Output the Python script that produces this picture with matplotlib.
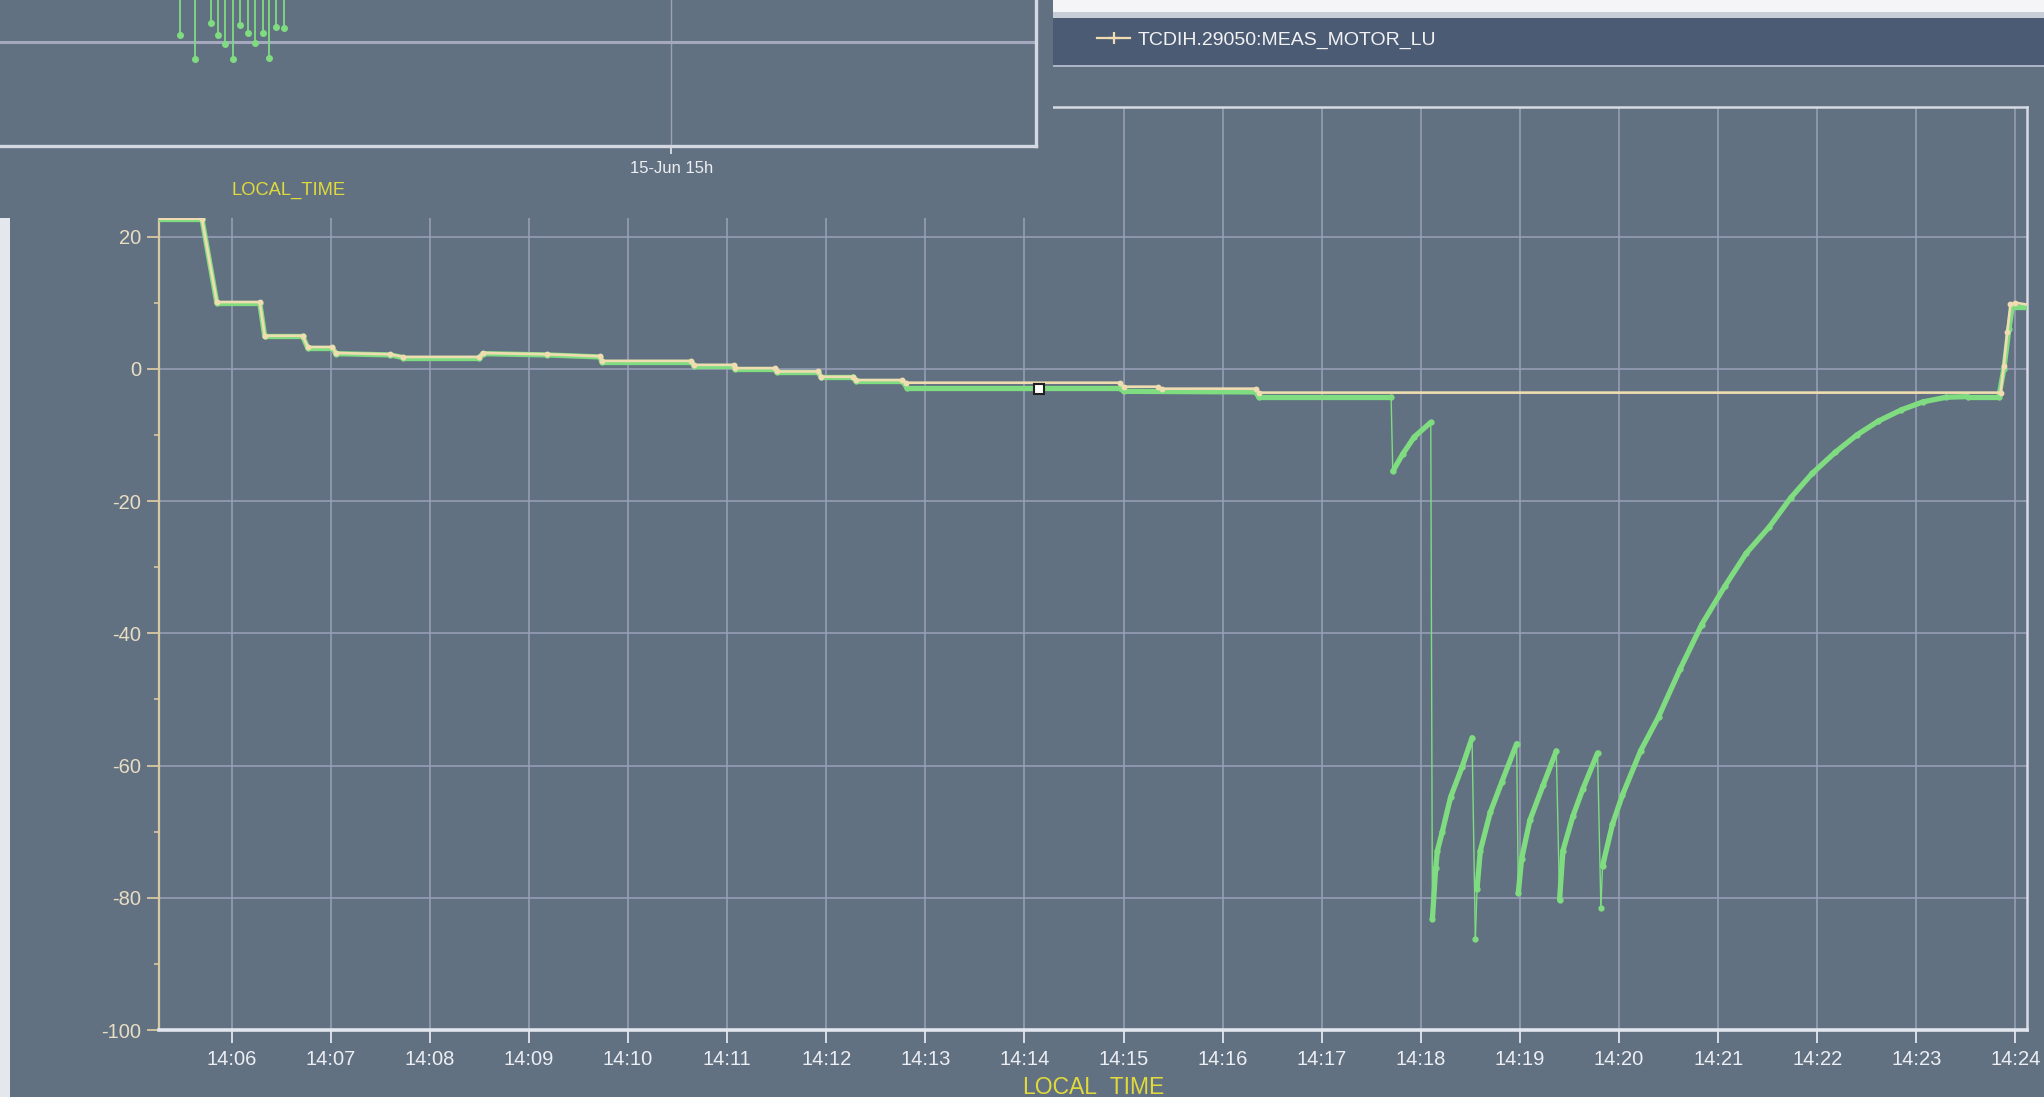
# coding=utf-8
# motor position trace, rebuilt from a screen capture
import matplotlib
matplotlib.use('Agg')
import matplotlib.pyplot as plt
import matplotlib.dates as mdates
from matplotlib.collections import LineCollection
from matplotlib.lines import Line2D
from matplotlib.patches import Rectangle
from matplotlib.ticker import MultipleLocator
import numpy as np
import pandas as pd

plt.rcParams['font.family'] = ['Liberation Sans', 'DejaVu Sans']
plt.rcParams['axes.unicode_minus'] = False

day = '2018-06-15 '

# beige series (setpoint)
ref_time = ['14:05:10', '14:05:42', '14:05:51', '14:06:17', '14:06:20', '14:06:43', '14:06:46',
            '14:07:01', '14:07:03', '14:07:36', '14:07:44', '14:08:30', '14:08:32', '14:09:11',
            '14:09:43', '14:09:44', '14:10:38', '14:10:40', '14:11:04', '14:11:05', '14:11:29',
            '14:11:30', '14:11:55', '14:11:57', '14:12:16', '14:12:18', '14:12:46', '14:12:48',
            '14:14:58', '14:15:00', '14:15:21', '14:15:23', '14:16:20', '14:16:22', '14:23:51',
            '14:23:53', '14:23:55', '14:23:57', '14:24:00', '14:24:10']
ref_value = [22.7, 22.7, 10.1, 10.1, 5.0, 5.0, 3.3,
             3.3, 2.4, 2.2, 1.8, 1.8, 2.4, 2.2,
             1.9, 1.2, 1.2, 0.6, 0.6, 0.1, 0.1,
             -0.4, -0.4, -1.2, -1.2, -1.7, -1.7, -2.1,
             -2.1, -2.7, -2.7, -3.0, -3.0, -3.6, -3.6,
             0.5, 5.5, 9.8, 10.0, 9.6]

# green series (measured)
meas_time = ['14:05:10', '14:05:42', '14:05:51', '14:06:17', '14:06:20', '14:06:43', '14:06:46',
             '14:07:01', '14:07:03', '14:07:36', '14:07:44', '14:08:30', '14:08:32', '14:09:11',
             '14:09:43', '14:09:44', '14:10:38', '14:10:40', '14:11:04', '14:11:05', '14:11:29',
             '14:11:30', '14:11:55', '14:11:57', '14:12:16', '14:12:18', '14:12:46', '14:12:49',
             '14:14:58', '14:15:00', '14:16:20', '14:16:22', '14:17:42', '14:17:43', '14:17:49',
             '14:17:56', '14:18:06', '14:18:07', '14:18:09', '14:18:10', '14:18:13', '14:18:18',
             '14:18:25', '14:18:31', '14:18:33', '14:18:34', '14:18:36', '14:18:42', '14:18:49',
             '14:18:58', '14:18:59', '14:19:01', '14:19:06', '14:19:14', '14:19:22', '14:19:24',
             '14:19:26', '14:19:32', '14:19:38', '14:19:47', '14:19:49', '14:19:50', '14:19:56',
             '14:20:02', '14:20:13', '14:20:24', '14:20:37', '14:20:50', '14:21:04', '14:21:17',
             '14:21:31', '14:21:44', '14:21:57', '14:22:11', '14:22:24', '14:22:37', '14:22:51',
             '14:23:04', '14:23:18', '14:23:31', '14:23:50', '14:23:53', '14:23:56', '14:23:58',
             '14:24:10']
meas_value = [22.7, 22.7, 10.0, 10.0, 4.9, 4.9, 3.2,
              3.2, 2.3, 2.1, 1.7, 1.7, 2.3, 2.1,
              1.8, 1.1, 1.1, 0.5, 0.5, 0.0, 0.0,
              -0.5, -0.5, -1.3, -1.3, -1.8, -1.8, -2.9,
              -2.9, -3.4, -3.5, -4.3, -4.3, -15.5, -12.9,
              -10.3, -8.1, -83.2, -75.5, -72.9, -70.0, -64.8,
              -60.2, -55.8, -86.3, -78.7, -72.9, -67.1, -62.5,
              -56.7, -79.3, -74.1, -68.3, -63.0, -57.8, -80.3,
              -72.9, -67.7, -63.6, -58.1, -81.5, -75.2, -68.9,
              -64.5, -57.8, -52.6, -45.4, -38.7, -32.9, -27.9,
              -23.9, -19.5, -15.8, -12.6, -10.0, -7.9, -6.2,
              -5.0, -4.3, -4.2, -4.2, 0.0, 6.0, 9.3,
              9.3]

cursor_time = '14:14:09'
cursor_value = -3.0

# overview panel (top left), spike lows
ov_time = ['14:16:08', '14:17:28', '14:18:51', '14:19:27', '14:20:07', '14:20:51', '14:21:30',
           '14:22:10', '14:22:50', '14:23:31', '14:24:03', '14:24:39', '14:25:22']
ov_low = [6.3, -16.9, 17.7, 6.3, -2.5, -16.9, 16.0, 8.0, -1.6, 8.0, -16.0, 14.4, 12.8]
ov_tick_time = ['15:00:00']
ov_tick_label = ['15-Jun 15h']

legend_label = 'TCDIH.29050:MEAS_MOTOR_LU'
axis_label = 'LOCAL_TIME'

BG = '#627181'
GREEN = '#7fdc80'
BEIGE = '#efdcb0'
GRID = '#9aa0b8'
YELLOW = '#e0da3a'
W, H = 2044.0, 1097.0


def to_dt(ts):
    return pd.to_datetime([day + t for t in ts])


def box(x0, y0, x1, y1):  # pixel box (top-left origin) -> figure fraction rect
    return [x0 / W, 1 - y1 / H, (x1 - x0) / W, (y1 - y0) / H]


fig = plt.figure(figsize=(20.44, 10.97), dpi=100, facecolor=BG)

# ---------------- main chart ----------------
ax = fig.add_axes(box(159, 107, 2027, 1030))
ax.set_facecolor(BG)
ax.set_axisbelow(True)

mx = mdates.date2num(to_dt(meas_time))
my = np.array(meas_value)
pts = np.column_stack([mx, my])
segs = np.stack([pts[:-1], pts[1:]], axis=1)
rate = np.abs(np.diff(my)) / (np.diff(mx) * 86400.0)
widths = np.where(rate > 5, 1.0, 3.8)
ax.add_collection(LineCollection(segs, linewidths=widths, colors=GREEN,
                                 capstyle='round', joinstyle='round', zorder=3))
ax.plot(mx, my, 'o', ms=3.5, color=GREEN, zorder=3)

rx = mdates.date2num(to_dt(ref_time))
ax.plot(rx, ref_value, color=BEIGE, lw=1.9, marker='o', ms=3.2, zorder=4)

cx = mdates.date2num(to_dt([cursor_time]))
ax.plot(cx, [cursor_value], 's', ms=7, mfc='white', mec='#202020', mew=1.5, zorder=6)

ax.xaxis_date()
ax.set_xlim(mdates.date2num(to_dt(['14:05:16'])[0]), mdates.date2num(to_dt(['14:24:07'])[0]))
ax.set_ylim(-100, 39.6)
ax.set_yticks(np.arange(-100, 21, 20))
ax.yaxis.set_minor_locator(MultipleLocator(10))
ax.xaxis.set_major_locator(mdates.MinuteLocator())
ax.xaxis.set_major_formatter(mdates.DateFormatter('%H:%M'))
ax.grid(True, color=GRID, lw=1.1)

ax.tick_params(axis='x', colors='#e4e6ee', labelcolor='#eceef4', labelsize=14.5,
               length=9.5, width=1.3, pad=5)
ax.tick_params(axis='y', which='major', colors='#d8c8a0', labelcolor='#e8dec4',
               labelsize=14.5, length=8.5, width=1.3, pad=4.5)
ax.tick_params(axis='y', which='minor', colors='#d8c8a0', length=3.5, width=1.2)

ax.spines['left'].set_color('#d8c8a0')
ax.spines['left'].set_linewidth(1.6)
ax.spines['bottom'].set_color('#e2e6ee')
ax.spines['bottom'].set_linewidth(2.6)
for s in ['top', 'right']:
    ax.spines[s].set_color('#d6dbe4')
    ax.spines[s].set_linewidth(1.8)

ax.set_xlabel(axis_label, color=YELLOW, fontsize=16.5, labelpad=5)

# ---------------- window decorations ----------------
r = box(0, 0, 1053, 218)
fig.add_artist(Rectangle(r[:2], r[2], r[3], transform=fig.transFigure,
                         facecolor=BG, edgecolor='none', zorder=5))
r = box(0, 218, 10, 1097)
fig.add_artist(Rectangle(r[:2], r[2], r[3], transform=fig.transFigure,
                         facecolor='#e4e8ec', edgecolor='none', zorder=5))
for (x0, y0, x1, y1, c) in [(1053, 0, 2044, 12, '#f5f5f7'), (1053, 12, 2044, 18, '#c6cdd7'),
                            (1053, 18, 2044, 65, '#4b5b73'), (1053, 65, 2044, 67, '#aab4c4')]:
    r = box(x0, y0, x1, y1)
    fig.add_artist(Rectangle(r[:2], r[2], r[3], transform=fig.transFigure,
                             facecolor=c, edgecolor='none', zorder=5))

handle = Line2D([], [], color=BEIGE, lw=1.6, marker='+', ms=9, mew=1.6)
leg = fig.legend([handle], [legend_label], loc='center left',
                 bbox_to_anchor=(1097 / W, 1 - 40 / H), frameon=False,
                 handlelength=1.7, handletextpad=0.4, borderaxespad=0, borderpad=0,
                 prop={'size': 14})
for t in leg.get_texts():
    t.set_color('#f2f2f4')
leg.set_zorder(7)

# ---------------- overview panel ----------------
ax2 = fig.add_axes(box(0, 0, 1036, 146), zorder=6)
ax2.set_facecolor(BG)
ox = mdates.date2num(to_dt(ov_time))
ax2.vlines(ox, ov_low, 60, color=GREEN, lw=1.3, zorder=3)
ax2.plot(ox, ov_low, 'o', ms=4, color=GREEN, zorder=3)
ax2.xaxis_date()
ax2.set_xlim(mdates.date2num(to_dt(['14:00:00'])[0]), mdates.date2num(to_dt(['15:32:37'])[0]))
ax2.set_ylim(-100, 40)
ax2.set_xticks(mdates.date2num(to_dt(ov_tick_time)))
ax2.set_xticklabels(ov_tick_label)
ax2.set_yticks([0])
ax2.set_yticklabels([])
ax2.tick_params(axis='y', length=0)
ax2.tick_params(axis='x', colors='#e4e6ee', labelcolor='#eceef4', labelsize=12,
                length=6, width=1.2, pad=5)
ax2.grid(True, axis='x', color=GRID, lw=1.0)
ax2.grid(True, axis='y', color='#a4a9c0', lw=2.2)
ax2.set_axisbelow(True)
for s in ['left', 'top']:
    ax2.spines[s].set_visible(False)
for s in ['bottom', 'right']:
    ax2.spines[s].set_color('#d4d8e2')
    ax2.spines[s].set_linewidth(2.4)

fig.text(289 / W, 1 - 190 / H, axis_label, color=YELLOW, fontsize=13.2, ha='center', va='center',
         zorder=7)

plt.savefig('out.png', dpi=100, facecolor=BG)
